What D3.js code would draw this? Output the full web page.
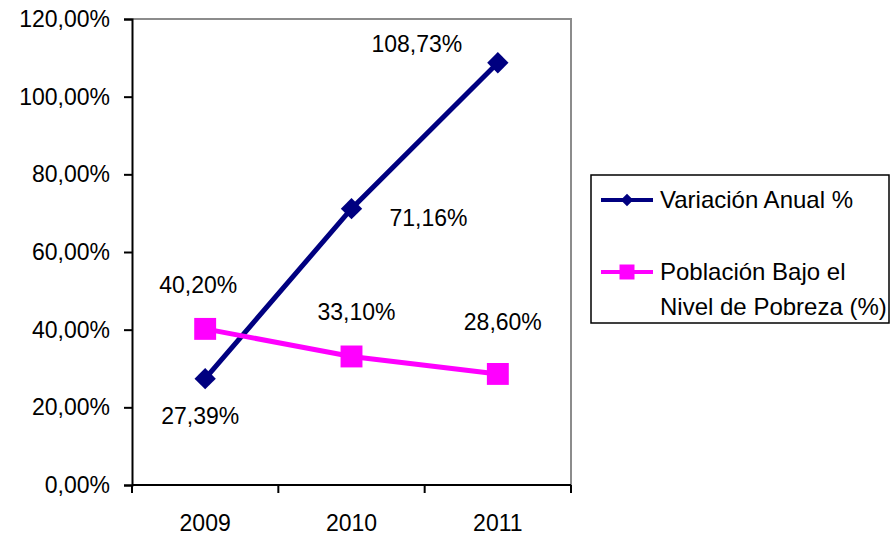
<!DOCTYPE html>
<html>
<head>
<meta charset="utf-8">
<script src="https://cdn.jsdelivr.net/npm/d3@7"></script>
<style>
  body { margin: 0; background: #fff; }
  text { font-family: "Liberation Sans", Arial, sans-serif; fill: #000; }
</style>
</head>
<body>
<svg id="chart" width="892" height="536"></svg>
<script>
// chart values
const years = ["2009", "2010", "2011"];
const variacion = [27.39, 71.16, 108.73];
const poblacion = [40.20, 33.10, 28.60];
const yTicks = [0, 20, 40, 60, 80, 100, 120];
const seriesNames = ["Variación Anual %", "Población Bajo el|Nivel de Pobreza (%)"];

const svg = d3.select("#chart");
const plotLeft = 132, plotRight = 571, plotTop = 19, plotBottom = 485;
const fs = 23;

const X = d3.scaleBand().domain(years).range([plotLeft, plotRight]);
const Y = d3.scaleLinear().domain([0, 120]).range([plotBottom, plotTop]);
const fmt = v => v.toFixed(2).replace(".", ",") + "%";

// plot border (top & right gray)
svg.append("path")
    .attr("d", `M${plotLeft},${plotTop}H${plotRight}V${plotBottom}`)
    .attr("fill", "none").attr("stroke", "#8c8c8c").attr("stroke-width", 2);

// y axis
const yAxis = svg.append("g").attr("transform", `translate(${plotLeft},0)`)
    .call(d3.axisLeft(Y).tickValues(yTicks).tickSize(8).tickFormat(fmt));
yAxis.select(".domain").attr("stroke", "#000").attr("stroke-width", 2);
yAxis.selectAll(".tick line").attr("stroke", "#000").attr("stroke-width", 2);
yAxis.selectAll(".tick text").attr("font-size", fs).attr("x", -22)
    .style("font-family", "Liberation Sans, Arial, sans-serif");

// x axis with ticks between categories
const xg = svg.append("g").attr("transform", `translate(0,${plotBottom})`);
xg.append("line").attr("x1", plotLeft).attr("x2", plotRight)
    .attr("stroke", "#000").attr("stroke-width", 2);
const bounds = years.map(y => X(y)).concat([plotRight]);
xg.selectAll("line.tk").data(bounds).enter().append("line")
    .attr("class", "tk")
    .attr("x1", d => d).attr("x2", d => d).attr("y1", 0).attr("y2", 8)
    .attr("stroke", "#000").attr("stroke-width", 2);
xg.selectAll("text").data(years).enter().append("text")
    .attr("x", d => X(d) + X.bandwidth() / 2).attr("y", 46)
    .attr("text-anchor", "middle").attr("font-size", fs).text(d => d);

const cx = d => X(d) + X.bandwidth() / 2;
const line = d3.line().x(d => cx(d[0])).y(d => Y(d[1]));
const diamond = d3.symbolDiamond2 || d3.symbolDiamond;

function drawSeries(vals, color, shape, size) {
    const pts = years.map((y, i) => [y, vals[i]]);
    svg.append("path").datum(pts).attr("d", line)
        .attr("fill", "none").attr("stroke", color).attr("stroke-width", 5);
    svg.selectAll(null).data(pts).enter().append("path")
        .attr("transform", d => `translate(${cx(d[0])},${Y(d[1])})`)
        .attr("d", d3.symbol().type(shape).size(size))
        .attr("fill", color);
}

drawSeries(variacion, "#000080", diamond, 290);
drawSeries(poblacion, "#ff00ff", d3.symbolSquare, 480);

// data labels (offsets relative to the point)
const varOffsets = [[-5, 37], [77, 9], [-81, -19]];
const pobOffsets = [[-7, -44], [5, -45], [5, -52]];
function labels(vals, offsets) {
    svg.selectAll(null).data(vals).enter().append("text")
        .attr("x", (d, i) => cx(years[i]) + offsets[i][0])
        .attr("y", (d, i) => Y(d) + offsets[i][1])
        .attr("dy", "0.35em")
        .attr("text-anchor", "middle").attr("font-size", fs)
        .text(d => fmt(d));
}
labels(variacion, varOffsets);
labels(poblacion, pobOffsets);

// legend
const lg = svg.append("g");
lg.append("rect").attr("x", 591).attr("y", 175).attr("width", 298).attr("height", 148)
    .attr("fill", "#fff").attr("stroke", "#000").attr("stroke-width", 1.5);
const legendItems = [
    { name: seriesNames[0], color: "#000080", shape: diamond, y: 200, size: 100 },
    { name: seriesNames[1], color: "#ff00ff", shape: d3.symbolSquare, y: 272, size: 225 }
];
legendItems.forEach(it => {
    lg.append("line").attr("x1", 601).attr("x2", 653).attr("y1", it.y).attr("y2", it.y)
        .attr("stroke", it.color).attr("stroke-width", 4);
    lg.append("path").attr("transform", `translate(627,${it.y})`)
        .attr("d", d3.symbol().type(it.shape).size(it.size)).attr("fill", it.color);
    const t = lg.append("text").attr("x", 660).attr("y", it.y)
        .attr("font-size", 24);
    it.name.split("|").forEach((s, i) => {
        t.append("tspan").attr("x", 660).attr("dy", i === 0 ? "0.35em" : 35).text(s);
    });
});
</script>
</body>
</html>
